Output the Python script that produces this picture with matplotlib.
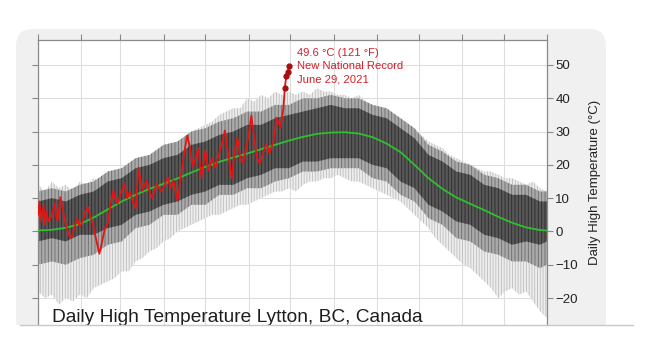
import numpy as np
import matplotlib
matplotlib.use("Agg")
import matplotlib.pyplot as plt
from matplotlib.patches import FancyBboxPatch, Rectangle
from matplotlib.lines import Line2D

plt.rcParams['font.family'] = ['Liberation Sans', 'DejaVu Sans']
plt.rcParams['hatch.linewidth'] = 0.6

# month boundaries (day of year)
month_edges = [0, 31, 59, 90, 120, 151, 181, 212, 243, 273, 304, 334, 365]
yticks = [-20, -10, 0, 10, 20, 30, 40, 50]

# envelope of all years, every 5 days
env_days = list(range(0, 366, 5))
outer_hi = [14, 12, 15, 13, 14, 12, 15, 14, 16, 15,
            17, 16, 19, 18, 20, 21, 22, 22, 24, 26,
            27, 28, 30, 31, 32, 33, 35, 36, 37, 37,
            40, 39, 41, 40, 42, 41, 42, 41, 42, 41,
            43, 42, 42, 41, 41, 40, 41, 39, 38, 37,
            36, 35, 33, 32, 30, 29, 27, 26, 25, 23,
            22, 21, 20, 19, 18, 18, 17, 16, 16, 15,
            14, 15, 13, 12]
outer_lo = [-18, -20, -19, -22, -20, -21, -19, -20, -17, -16,
            -15, -14, -12, -12, -9, -8, -6, -5, -3, -2,
            0, 1, 2, 3, 4, 5, 5, 6, 7, 8,
            8, 9, 10, 11, 12, 12, 13, 12, 14, 15,
            15, 16, 16, 17, 16, 15, 15, 14, 13, 12,
            11, 10, 9, 7, 5, 3, 1, -2, -4, -6,
            -8, -10, -11, -13, -15, -17, -20, -18, -17, -19,
            -18, -21, -24, -26]

# dense part of the cloud and the mean, every 10 days
band_days = list(range(0, 361, 10)) + [365]
mean_t = [0.3, 0.5, 1.1, 2.2, 4.2, 6.6, 9.0, 11.0, 12.8, 14.3,
          15.9, 17.7, 19.4, 20.9, 22.2, 23.4, 24.7, 26.0, 27.3, 28.4,
          29.3, 29.7, 29.8, 29.4, 28.3, 26.4, 23.8, 20.0, 16.0, 12.8,
          10.2, 8.3, 6.4, 4.4, 2.6, 1.2, 0.4, 0.3]
core_hi = [9, 10, 9, 11, 12, 15, 16, 19, 20, 22,
           23, 26, 27, 29, 30, 32, 32, 34, 35, 36,
           37, 38, 37, 37, 35, 34, 31, 28, 23, 21,
           18, 17, 14, 13, 11, 11, 9, 9]
core_lo = [-3, -2, -3, -1, -1, 1, 2, 5, 6, 8,
           9, 11, 12, 14, 14, 16, 17, 19, 19, 21,
           21, 22, 22, 22, 20, 19, 15, 13, 8, 6,
           3, 2, -1, -2, -4, -3, -4, -3]
mid_hi = [12, 13, 12, 14, 15, 18, 19, 22, 23, 26,
          27, 30, 31, 33, 34, 36, 36, 38, 38, 40,
          40, 41, 40, 40, 38, 37, 34, 31, 26, 24,
          21, 20, 17, 16, 14, 14, 12, 12]
mid_lo = [-10, -9, -10, -8, -7, -4, -3, 1, 2, 5,
          5, 8, 8, 11, 11, 13, 13, 15, 16, 18,
          18, 19, 19, 19, 16, 15, 11, 9, 4, 2,
          -2, -3, -6, -7, -9, -9, -11, -10]

# 2021 up to June 29
days_2021 = [0, 1, 2, 3, 4, 5, 6, 7, 8, 10, 12, 13, 14, 16, 18, 20, 22, 24, 26, 28,
             30, 32, 34, 36, 38, 40, 42, 44, 46, 48, 50, 52, 54, 56, 57, 59, 62, 64, 66, 68,
             70, 72, 75, 78, 80, 82, 85, 88, 90, 93, 95, 97, 100, 103, 105, 107, 109, 111, 113, 115,
             117, 120, 122, 125, 127, 129, 132, 134, 136, 139, 141, 143, 145, 147, 150, 153, 154, 157, 159, 162,
             164, 166, 169, 171, 174, 176, 177, 178, 179, 180]
temp_2021 = [5, 9, 3, 6, 7.5, 2, 6, 4, 3, 5, 8.4, 5, 3, 10.3, 6, 2, -1, -2, 1, 4,
             1.5, 3, 6, 7.3, 4, 1, -3, -6.7, -3, 1, 2.4, 8, 12.3, 9, 8.4, 11, 14.4, 10, 12, 9,
             6.9, 19, 12.3, 15.3, 12, 10, 14.4, 12, 13.2, 16.2, 13, 15.3, 9.3, 18.3, 24, 28.8, 25.2, 19.2, 22, 25,
             16.2, 24.3, 18.3, 21.9, 19.2, 22.2, 26.4, 30.3, 24.3, 15.9, 24.3, 28.2, 22.2, 20.4, 26.4, 34.8, 31.2, 22.2, 20.4, 24.3,
             26.4, 23.4, 27.3, 34.2, 31.2, 37.2, 43.2, 46.6, 47.9, 49.6]

fig = plt.figure(figsize=(6.6, 3.38), dpi=100)
fig.add_artist(FancyBboxPatch((0.16, -0.4), 5.90, 3.49,
                              boxstyle="round,pad=0,rounding_size=0.17",
                              transform=fig.dpi_scale_trans,
                              fc="#f0f0f0", ec="none", zorder=-3))
fig.add_artist(Rectangle((0, 0), 6.6, 0.13, transform=fig.dpi_scale_trans,
                         fc="white", ec="none", zorder=-2))
fig.add_artist(Line2D([20 / 660, 633 / 660], [13 / 338, 13 / 338],
                      color="#c8c8c8", lw=1, zorder=5))

ax = fig.add_axes([38 / 660, 13 / 338, 509 / 660, 285 / 338])
ax.set_xlim(0, 365)
ax.set_ylim(-28.1, 57.5)

# cloud of all years: faint extremes, medium band, dense core (vertical streak texture)
ax.fill_between(env_days, outer_lo, outer_hi, facecolor="#ededed", edgecolor="#bdbdbd",
                hatch="||||||", lw=0, zorder=1)
ax.fill_between(band_days, mid_lo, mid_hi, facecolor="#aaaaaa", edgecolor="#6c6c6c",
                hatch="|||||", lw=0, zorder=1.1)
ax.fill_between(band_days, core_lo, core_hi, facecolor="#575757", edgecolor="#2c2c2c",
                hatch="|||||", lw=0, zorder=1.2)

ax.plot(band_days, mean_t, color="#2fbf2f", lw=1.3, zorder=3)
ax.plot(days_2021, temp_2021, color="#e31414", lw=1.3, zorder=4)
ax.plot(days_2021[-4:], temp_2021[-4:], "o", color="#a50f0f", ms=3.5, zorder=5)

ax.set_xticks(month_edges)
ax.set_yticks(yticks)
ax.grid(color="#dedede", lw=0.8)
ax.set_axisbelow(True)
ax.tick_params(axis="x", top=True, bottom=False, labelbottom=False, labeltop=False,
               direction="out", length=4, color="#888888")
ax.tick_params(axis="y", left=True, right=True, labelleft=False, labelright=True,
               direction="out", length=4, color="#888888", labelsize=9.5, pad=2,
               labelcolor="#222222")
for s in ["left", "right", "top"]:
    ax.spines[s].set_color("#8a8a8a")
    ax.spines[s].set_linewidth(0.9)
ax.spines["bottom"].set_visible(False)
ax.yaxis.set_label_position("right")
ax.set_ylabel("Daily High Temperature (°C)", fontsize=9.5, color="#222222", labelpad=8)

red = "#d3202a"
fig.text(297 / 660, 1 - 56 / 338, "49.6 °C (121 °F)", color=red, fontsize=8.1, va="baseline")
fig.text(297 / 660, 1 - 69 / 338, "New National Record", color=red, fontsize=8.1, va="baseline")
fig.text(297 / 660, 1 - 82 / 338, "June 29, 2021", color=red, fontsize=8.1, va="baseline")

fig.text(52 / 660, 1 - 322 / 338, "Daily High Temperature Lytton, BC, Canada",
         fontsize=13.8, color="#1e1e1e", va="baseline")

fig.savefig("out.png", dpi=100)
